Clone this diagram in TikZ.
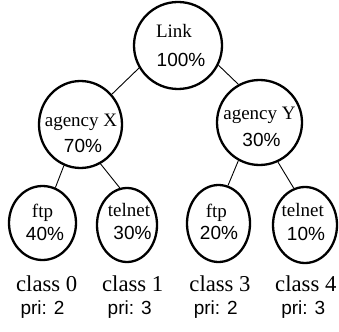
\documentclass[tikz,border=0pt]{standalone}
\usepackage{fontspec}
\setmainfont{Liberation Serif}
\setsansfont{Liberation Sans}
\usetikzlibrary{shapes.geometric}
\tikzset{
  ell/.style={ellipse, draw, line width=2.3pt, inner sep=0pt},
  lnk/.style={line width=0.9pt},
  srf/.style={anchor=base, inner sep=0pt, font=\fontsize{19}{19}\selectfont\rmfamily},
  pct/.style={anchor=base, inner sep=0pt, font=\fontsize{19}{19}\selectfont\sffamily},
  cls/.style={anchor=base, inner sep=0pt, font=\fontsize{22.7}{22.7}\selectfont\rmfamily},
}
\begin{document}
\begin{tikzpicture}[x=1pt,y=-1pt]
\useasboundingbox (0,0) rectangle (339,331);
% nodes
\node[ell, minimum width=88pt, minimum height=87pt] (link) at (178,45.5) {};
\node[ell, minimum width=83pt, minimum height=87pt] (agx) at (80.5,124.5) {};
\node[ell, minimum width=85pt, minimum height=85pt] (agy) at (259.5,122.5) {};
\node[ell, minimum width=67pt, minimum height=74pt] (l1) at (42.5,223) {};
\node[ell, minimum width=60pt, minimum height=74pt] (l2) at (127,225) {};
\node[ell, minimum width=63pt, minimum height=77pt] (l3) at (218.5,223.5) {};
\node[ell, minimum width=64pt, minimum height=76pt] (l4) at (305,225) {};
% texts
\node[srf] (tlink) at (174,37.7) {Link};
\node[pct] (plink) at (181,66.7) {100\%};
\node[srf] (tagx) at (81,126.7) {agency X};
\node[pct] (pagx) at (83,152.7) {70\%};
\node[srf] (tagy) at (259.5,120) {agency Y};
\node[pct] (pagy) at (261.5,146.7) {30\%};
\node[srf] (tl1) at (42.5,217.5) {ftp};
\node[pct] (pl1) at (45,240) {40\%};
\node[srf] (tl2) at (129,216.7) {telnet};
\node[pct] (pl2) at (132.5,239.3) {30\%};
\node[srf] (tl3) at (216.3,217.3) {ftp};
\node[pct] (pl3) at (219,239.3) {20\%};
\node[srf] (tl4) at (302.8,216.7) {telnet};
\node[pct] (pl4) at (306,240) {10\%};
% class labels
\node[cls] (c0) at (46.7,291.7) {class 0};
\node[cls] (c1) at (132.7,291.7) {class 1};
\node[cls] (c3) at (220,291.7) {class 3};
\node[cls] (c4) at (305.8,291.7) {class 4};
\node[pct] (r0) at (42.5,314.3) {pri: 2};
\node[pct] (r1) at (129.7,314.3) {pri: 3};
\node[pct] (r3) at (215.8,314.3) {pri: 2};
\node[pct] (r4) at (303.3,314.3) {pri: 3};
% connectors
\draw[lnk] (link.210) -- (agx.44);
\draw[lnk] (link.334) -- (agy.119);
\draw[lnk] (agx.248) -- (l1.70);
\draw[lnk] (agx.297) -- (l2.101);
\draw[lnk] (agy.241) -- (l3.76);
\draw[lnk] (agy.295) -- (l4.107);
\end{tikzpicture}
\end{document}
